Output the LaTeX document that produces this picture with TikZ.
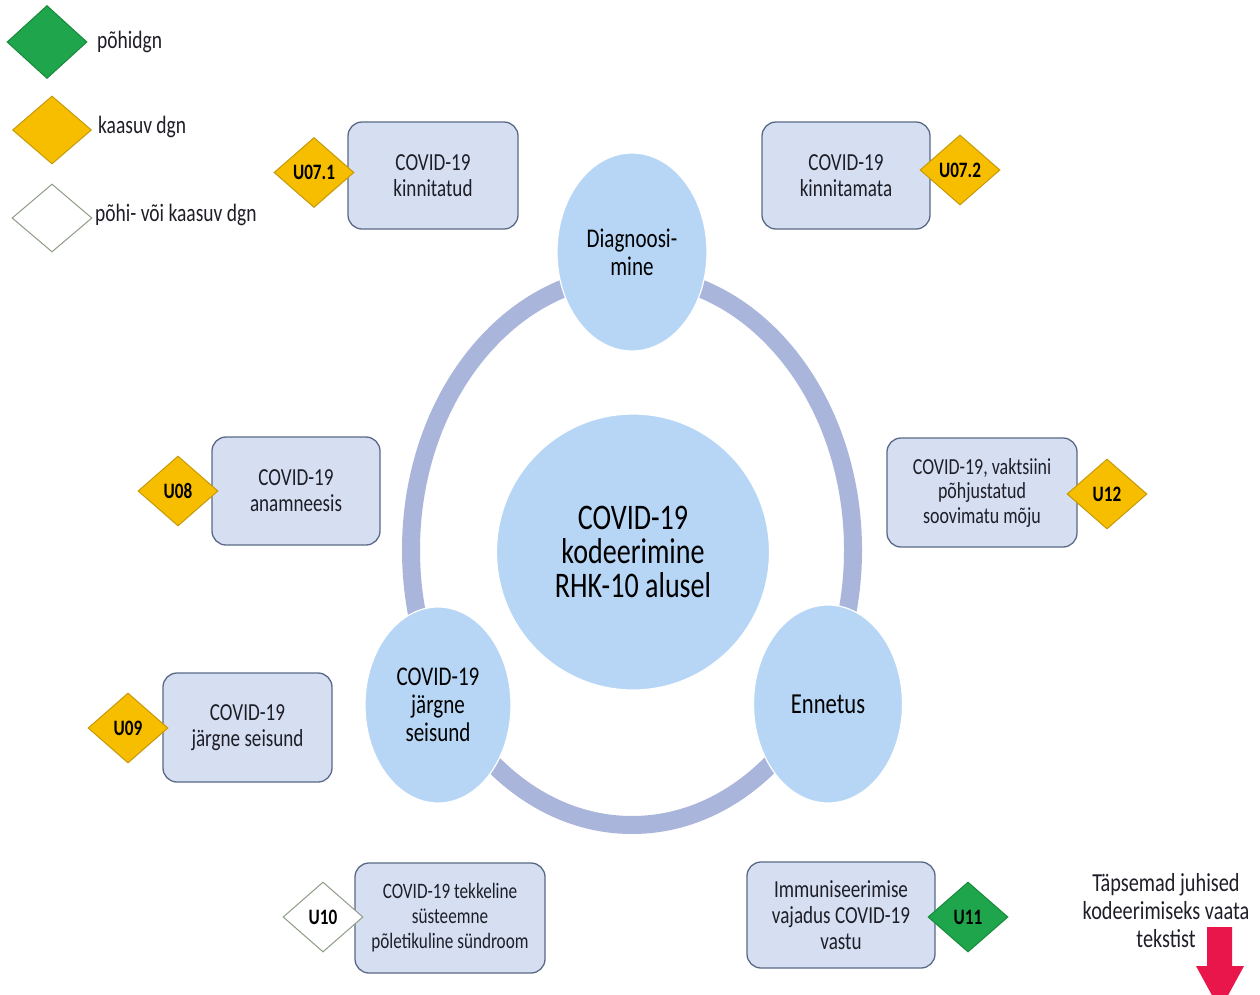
\documentclass[tikz,border=0pt]{standalone}
\usepackage{fontspec}
\setmainfont{Carlito}[FakeStretch=0.78]
\usetikzlibrary{shapes.geometric}
\definecolor{boxfill}{HTML}{D6DFF1}
\definecolor{boxdraw}{HTML}{5A6987}
\definecolor{circfill}{HTML}{B7D6F6}
\definecolor{ringcol}{HTML}{A9B5DA}
\definecolor{linecol}{HTML}{6A7C9C}
\definecolor{dgnyellow}{HTML}{F7BE00}
\definecolor{dgnyellowd}{HTML}{C59A08}
\definecolor{dgngreen}{HTML}{1FA54B}
\definecolor{dgngreend}{HTML}{178A3C}
\definecolor{whited}{HTML}{8E9C86}
\definecolor{arrowred}{HTML}{E8164A}
\definecolor{txt}{HTML}{1E1E28}
\pgfdeclarelayer{bg}
\pgfsetlayers{bg,main}
\begin{document}
\begin{tikzpicture}[x=1pt,y=-1pt,
  box/.style={draw=boxdraw, fill=boxfill, line width=1.3pt, rounded corners=14pt,
    inner sep=0pt, align=center, text=txt, font=\fontsize{24.5}{26}\selectfont},
  circ/.style={ellipse, draw=white, line width=1.2pt, fill=circfill, inner sep=0pt,
    align=center, text=black, font=\fontsize{27}{28}\selectfont},
  ringst/.style={ellipse, draw=ringcol, line width=18pt, inner sep=0pt},
  dgn/.style={diamond, line width=1pt, minimum width=80pt, minimum height=70pt,
    inner sep=0pt, text=black, font=\bfseries\fontsize{22}{24}\selectfont},
  ydgn/.style={dgn, fill=dgnyellow, draw=dgnyellowd},
  gdgn/.style={dgn, fill=dgngreen, draw=dgngreend},
  wdgn/.style={dgn, fill=white, draw=whited},
  legtext/.style={anchor=west, inner sep=0pt, text=txt, font=\fontsize{25}{27}\selectfont},
  conn/.style={draw=linecol, line width=1.4pt}
]
\clip (0,0) rectangle (1260,994);
\useasboundingbox (0,0) rectangle (1260,994);
\fill[white] (0,0) rectangle (1260,994);

% legend
\node[gdgn, minimum width=80pt, minimum height=73pt] (lg1) at (47,42) {};
\node[ydgn, minimum width=79pt, minimum height=68pt] (lg2) at (52,130) {};
\node[wdgn, minimum width=80pt, minimum height=68pt] (lg3) at (52,218) {};
\node[legtext] (lt1) at (97,42) {põhidgn};
\node[legtext] (lt2) at (98,127) {kaasuv dgn};
\node[legtext] (lt3) at (95,215) {põhi- või kaasuv dgn};

% ring
\node[ringst, minimum width=442pt, minimum height=550pt] (ring) at (632,550) {};

% circles
\node[circ, minimum width=150pt, minimum height=198pt] (diag) at (632,252) {Diagnoosi-\\mine};
\node[circ, minimum width=146pt, minimum height=196pt] (jarg) at (438,705) {COVID-19\\järgne\\seisund};
\node[circ, minimum width=149pt, minimum height=198pt, font=\fontsize{29}{28}\selectfont] (enn) at (828,704) {Ennetus};
\node[circ, minimum width=273pt, minimum height=276pt, font=\fontsize{36}{34}\selectfont] (center) at (633,552)
  {COVID-19\\kodeerimine\\RHK-10 alusel};

% boxes
\node[box, minimum width=170pt, minimum height=107pt] (k1) at (433,175.5) {COVID-19\\kinnitatud};
\node[box, minimum width=168pt, minimum height=107pt] (k2) at (846,175.5) {COVID-19\\kinnitamata};
\node[box, minimum width=168pt, minimum height=108pt] (ana) at (296,491) {COVID-19\\anamneesis};
\node[box, minimum width=169pt, minimum height=109pt] (js) at (247.5,727.5) {COVID-19\\järgne seisund};
\node[box, minimum width=190pt, minimum height=109pt, font=\fontsize{23}{24.5}\selectfont] (vak) at (982,492.5)
  {COVID-19, vaktsiini\\põhjustatud\\soovimatu mõju};
\node[box, minimum width=190pt, minimum height=110pt, font=\fontsize{22}{25}\selectfont] (tek) at (450,918)
  {COVID-19 tekkeline\\süsteemne\\põletikuline sündroom};
\node[box, minimum width=188pt, minimum height=106pt] (imm) at (841,915)
  {Immuniseerimise\\vajadus COVID-19\\vastu};

% code diamonds
\node[ydgn] (d071) at (314,172.5) {U07.1};
\node[ydgn] (d072) at (960,170) {U07.2};
\node[ydgn] (d08) at (178,491) {U08};
\node[ydgn] (d09) at (128,728) {U09};
\node[ydgn] (d12) at (1107,494) {U12};
\node[wdgn] (d10) at (323,917) {U10};
\node[gdgn] (d11) at (968,917) {U11};

% note
\node[align=center, inner sep=0pt, text=txt, font=\fontsize{26}{28}\selectfont] (note) at (1166,911)
  {Täpsemad juhised\\kodeerimiseks vaata\\tekstist};
\fill[arrowred] (1207,927) -- (1232,927) -- (1232,966) -- (1244,966) -- (1220,1010)
  -- (1196,966) -- (1207,966) -- cycle;

% connectors
\begin{pgfonlayer}{bg}
\draw[conn] (k1.east) -- (k1.east -| diag.center);
\draw[conn] (k2.west) -- (k2.west -| diag.center);
\draw[conn, shorten <=15pt] (ana.south) -- (ana.south |- js.north);
\draw[conn] ([yshift=10pt]js.east) -- ([yshift=10pt]js.east -| jarg.center);
\draw[conn] (tek.north) -- (tek.north |- jarg.center);
\draw[conn] ([xshift=6pt]vak.south) |- ([yshift=4pt]enn.center);
\draw[conn] ([xshift=-3pt]imm.north) -- ([xshift=-3pt]imm.north |- enn.center);
\end{pgfonlayer}
\end{tikzpicture}
\end{document}
